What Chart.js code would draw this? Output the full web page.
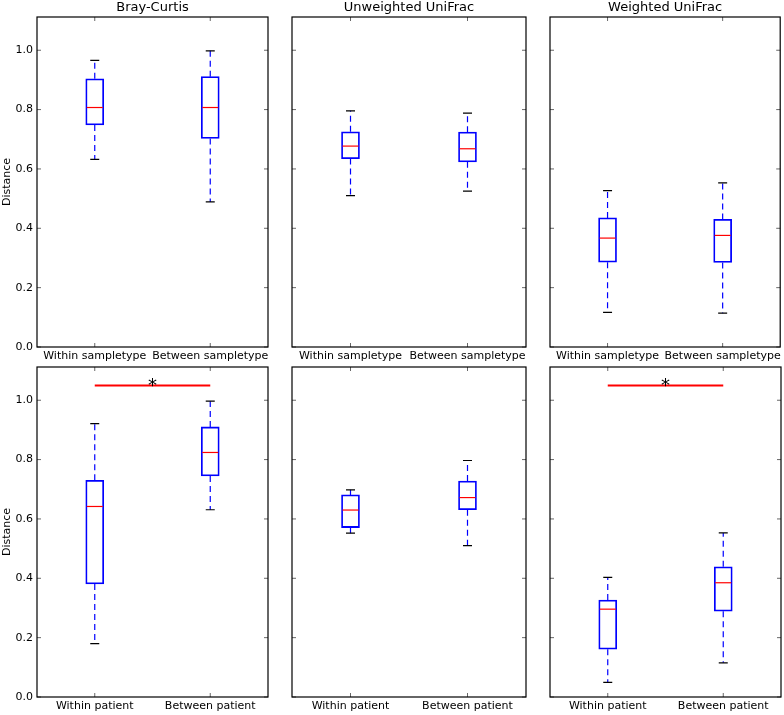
<!DOCTYPE html>
<html>
<head>
<meta charset="utf-8">
<script src="https://cdn.jsdelivr.net/npm/chart.js@4/dist/chart.umd.min.js"></script>
<style>
  body { margin: 0; background: #fff; }
  #wrap { position: relative; width: 784px; height: 715px; }
  #wrap canvas { position: absolute; left: 0; top: 0; }
</style>
</head>
<body>
<div id="wrap">
  <canvas id="c0" width="784" height="715"></canvas>
  <canvas id="c1" width="784" height="715"></canvas>
  <canvas id="c2" width="784" height="715"></canvas>
  <canvas id="c3" width="784" height="715"></canvas>
  <canvas id="c4" width="784" height="715"></canvas>
  <canvas id="c5" width="784" height="715"></canvas>
</div>
<script>
// categories and titles
const sampletypeLabels = ['Within sampletype', 'Between sampletype'];
const patientLabels = ['Within patient', 'Between patient'];
const metricTitles = ['Bray-Curtis', 'Unweighted UniFrac', 'Weighted UniFrac'];

// box stats: [lower whisker, q1, median, q3, upper whisker]
const brayWithinSampletype = [0.632, 0.748, 0.807, 0.904, 0.966];
const brayBetweenSampletype = [0.489, 0.703, 0.807, 0.911, 0.998];
const unwWithinSampletype = [0.510, 0.635, 0.677, 0.725, 0.796];
const unwBetweenSampletype = [0.525, 0.624, 0.668, 0.724, 0.788];
const wWithinSampletype = [0.117, 0.286, 0.367, 0.435, 0.527];
const wBetweenSampletype = [0.114, 0.285, 0.376, 0.430, 0.553];

const brayWithinPatient = [0.180, 0.381, 0.642, 0.730, 0.921];
const brayBetweenPatient = [0.631, 0.745, 0.824, 0.910, 0.997];
const unwWithinPatient = [0.552, 0.571, 0.630, 0.681, 0.698];
const unwBetweenPatient = [0.510, 0.631, 0.672, 0.728, 0.797];
const wWithinPatient = [0.049, 0.161, 0.296, 0.327, 0.403];
const wBetweenPatient = [0.115, 0.289, 0.385, 0.439, 0.553];

// significance bar height (null = none)
const sigSampletype = [null, null, null];
const sigPatient = [1.05, null, 1.05];

const yMax = 1.112;
const yStep = 0.2;

Chart.defaults.font.family = 'DejaVu Sans';
Chart.defaults.color = '#000';

// panel geometry (plot area edges)
const colLeft = [37, 292, 550];
const colRight = [268, 526, 781];
const rowTop = [17, 367];
const rowBottom = [347, 697];

const boxExtras = {
  id: 'boxExtras',
  afterDatasetsDraw(chart, args, opts) {
    const ctx = chart.ctx;
    const x = chart.scales.x, y = chart.scales.y;
    ctx.save();
    opts.stats.forEach(function(s, i) {
      const cx = x.getPixelForValue(i);
      // whiskers
      ctx.strokeStyle = '#0000ff';
      ctx.lineWidth = 1.2;
      ctx.setLineDash([6, 4]);
      ctx.beginPath();
      ctx.moveTo(cx, y.getPixelForValue(s[3]));
      ctx.lineTo(cx, y.getPixelForValue(s[4]));
      ctx.moveTo(cx, y.getPixelForValue(s[1]));
      ctx.lineTo(cx, y.getPixelForValue(s[0]));
      ctx.stroke();
      ctx.setLineDash([]);
      // caps
      ctx.strokeStyle = '#000';
      ctx.beginPath();
      [s[0], s[4]].forEach(function(v) {
        const py = y.getPixelForValue(v);
        ctx.moveTo(cx - 4.5, py);
        ctx.lineTo(cx + 4.5, py);
      });
      ctx.stroke();
      // median
      ctx.strokeStyle = '#ff0000';
      ctx.beginPath();
      const my = y.getPixelForValue(s[2]);
      ctx.moveTo(cx - 8, my);
      ctx.lineTo(cx + 8, my);
      ctx.stroke();
    });
    ctx.restore();
  },
  afterDraw(chart, args, opts) {
    const ctx = chart.ctx;
    const a = chart.chartArea;
    const x = chart.scales.x, y = chart.scales.y;
    ctx.save();
    // inward ticks
    ctx.strokeStyle = '#000';
    ctx.lineWidth = 0.6;
    ctx.beginPath();
    y.ticks.forEach(function(t) {
      const py = y.getPixelForValue(t.value);
      ctx.moveTo(a.left, py); ctx.lineTo(a.left + 4, py);
      ctx.moveTo(a.right, py); ctx.lineTo(a.right - 4, py);
    });
    chart.data.labels.forEach(function(l, i) {
      const px = x.getPixelForValue(i);
      ctx.moveTo(px, a.top); ctx.lineTo(px, a.top + 4);
      ctx.moveTo(px, a.bottom); ctx.lineTo(px, a.bottom - 4);
    });
    ctx.stroke();
    // frame
    ctx.lineWidth = 1.2;
    ctx.strokeRect(a.left, a.top, a.right - a.left, a.bottom - a.top);
    // title
    if (opts.title) {
      ctx.fillStyle = '#000';
      ctx.font = '13px "DejaVu Sans"';
      ctx.textAlign = 'center';
      ctx.textBaseline = 'alphabetic';
      ctx.fillText(opts.title, (a.left + a.right) / 2, a.top - 6);
    }
    // significance bar
    if (opts.sig != null) {
      const py = y.getPixelForValue(opts.sig);
      const x0 = x.getPixelForValue(0), x1 = x.getPixelForValue(1);
      ctx.strokeStyle = '#ff0000';
      ctx.lineWidth = 2;
      ctx.beginPath();
      ctx.moveTo(x0, py); ctx.lineTo(x1, py);
      ctx.stroke();
      ctx.fillStyle = '#000';
      ctx.font = '18px "DejaVu Sans"';
      ctx.textAlign = 'center';
      ctx.textBaseline = 'alphabetic';
      ctx.fillText('*', (x0 + x1) / 2, py + 6);
    }
    ctx.restore();
  }
};

function makePanel(canvasId, col, row, title, labels, stats, sig) {
  const yW = col === 0 ? 37 : 0;
  const xH = 17;
  return new Chart(document.getElementById(canvasId), {
    type: 'bar',
    data: {
      labels: labels,
      datasets: [{
        data: stats.map(s => [s[1], s[3]]),
        backgroundColor: 'rgba(255,255,255,0)',
        borderColor: '#0000ff',
        borderWidth: 1.1,
        borderSkipped: false,
        barThickness: 18
      }]
    },
    options: {
      responsive: false,
      animation: false,
      events: [],
      layout: {
        autoPadding: false,
        padding: {
          left: colLeft[col] - yW,
          top: rowTop[row],
          right: 784 - colRight[col],
          bottom: 715 - rowBottom[row] - xH
        }
      },
      plugins: {
        legend: { display: false },
        tooltip: { enabled: false },
        boxExtras: { stats: stats, title: title, sig: sig }
      },
      scales: {
        x: {
          grid: { display: false, drawTicks: false },
          border: { display: false },
          ticks: { padding: 2.5, maxRotation: 0, autoSkip: false, font: { size: 11 }, color: '#000' },
          afterFit: function(s) { s.height = xH; }
        },
        y: {
          min: 0,
          max: yMax,
          grid: { display: false, drawTicks: false },
          border: { display: false },
          ticks: {
            display: col === 0,
            stepSize: yStep,
            includeBounds: false,
            padding: 4,
            font: { size: 11 },
            color: '#000',
            callback: v => v.toFixed(1)
          },
          title: {
            display: col === 0,
            text: 'Distance',
            font: { size: 11 },
            color: '#000',
            padding: { top: 1, bottom: 0 }
          },
          afterFit: function(s) { s.width = yW; }
        }
      }
    },
    plugins: [boxExtras]
  });
}

makePanel('c0', 0, 0, metricTitles[0], sampletypeLabels, [brayWithinSampletype, brayBetweenSampletype], sigSampletype[0]);
makePanel('c1', 1, 0, metricTitles[1], sampletypeLabels, [unwWithinSampletype, unwBetweenSampletype], sigSampletype[1]);
makePanel('c2', 2, 0, metricTitles[2], sampletypeLabels, [wWithinSampletype, wBetweenSampletype], sigSampletype[2]);
makePanel('c3', 0, 1, null, patientLabels, [brayWithinPatient, brayBetweenPatient], sigPatient[0]);
makePanel('c4', 1, 1, null, patientLabels, [unwWithinPatient, unwBetweenPatient], sigPatient[1]);
makePanel('c5', 2, 1, null, patientLabels, [wWithinPatient, wBetweenPatient], sigPatient[2]);
</script>
</body>
</html>
